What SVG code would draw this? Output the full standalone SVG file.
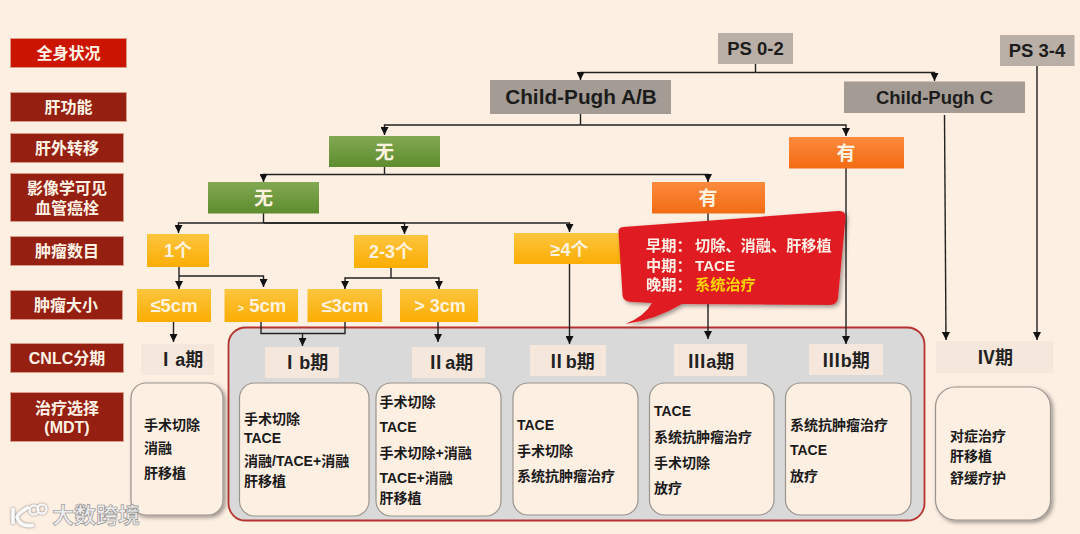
<svg xmlns="http://www.w3.org/2000/svg" width="1080" height="534" viewBox="0 0 1080 534">
<style>
text{font-family:"Liberation Sans","Noto Sans CJK SC",sans-serif}
.lab rect{stroke:#D99C88;stroke-width:1}
.lab text{fill:#FFF3E6;font-size:16px;font-weight:700;text-anchor:middle}
.grey text{fill:#1c1c1c;font-weight:700;text-anchor:middle}
.col text{fill:#FFF3E0;font-weight:700;text-anchor:middle}
.st rect{fill:#F5E7DC}
.st text{fill:#222;font-size:18px;font-weight:700;text-anchor:middle;word-spacing:-4.500px}
.tr rect{fill:#FEEFE3;stroke:#9A948E;stroke-width:1.2}
.tr text{fill:#1a1a1a;font-size:14px;font-weight:700}
.c path{fill:none;stroke:#222;stroke-width:1.4}
.c path.a{marker-end:url(#ar)}
</style>
<defs>
<marker id="ar" markerUnits="userSpaceOnUse" markerWidth="9" markerHeight="8" refX="8" refY="4" orient="auto"><path d="M0,0L8,4L0,8Z" fill="#111"/></marker>
<linearGradient id="gr" x1="0" y1="0" x2="0" y2="1"><stop offset="0" stop-color="#83A953"/><stop offset="1" stop-color="#5D8C2D"/></linearGradient>
<linearGradient id="or" x1="0" y1="0" x2="0" y2="1"><stop offset="0" stop-color="#FD8A3D"/><stop offset="1" stop-color="#F26C12"/></linearGradient>
<linearGradient id="ye" x1="0" y1="0" x2="0" y2="1"><stop offset="0" stop-color="#FDC53F"/><stop offset="1" stop-color="#FBAD03"/></linearGradient>
<filter id="sh" x="-10%" y="-10%" width="125%" height="125%"><feDropShadow dx="2" dy="2" stdDeviation="2" flood-color="#000" flood-opacity=".4"/></filter>
<filter id="ws" x="-20%" y="-20%" width="140%" height="140%"><feDropShadow dx="0" dy="0" stdDeviation=".8" flood-color="#555" flood-opacity=".9"/></filter>
</defs>
<rect width="1080" height="534" fill="#FEEFE3"/>

<g id="panel"><rect x="228.500" y="327.500" width="696" height="193" rx="17" fill="#D9D9D9" stroke="#B5332E" stroke-width="1.800"/></g>

<g class="lab">
<g id="l1"><rect x="10.500" y="38.500" width="116" height="29" fill="#CC1500"/><text x="68.500" y="59">全身状况</text></g>
<g id="l2"><rect x="10.500" y="92.500" width="116" height="29" fill="#951F10"/><text x="68.500" y="113">肝功能</text></g>
<g id="l3"><rect x="10.500" y="133.500" width="113" height="29" fill="#951F10"/><text x="67" y="154">肝外转移</text></g>
<g id="l4"><rect x="10.500" y="173.500" width="113" height="48" fill="#951F10"/><text x="67" y="194">影像学可见</text><text x="67" y="214">血管癌栓</text></g>
<g id="l5"><rect x="10.500" y="236.500" width="113" height="29" fill="#951F10"/><text x="67" y="257">肿瘤数目</text></g>
<g id="l6"><rect x="10.500" y="290.500" width="112" height="29" fill="#951F10"/><text x="66" y="311">肿瘤大小</text></g>
<g id="l7"><rect x="10.500" y="343.500" width="113" height="29" fill="#951F10"/><text x="67" y="364">CNLC分期</text></g>
<g id="l8"><rect x="10.500" y="392.500" width="113" height="49" fill="#951F10"/><text x="67" y="414">治疗选择</text><text x="67" y="433">(MDT)</text></g>
</g>

<g id="connectors" class="c">
<path d="M755.500,64V72.500"/><path class="a" d="M755.500,72.500H580.500V80"/><path class="a" d="M755.500,72.500H934.500V81"/>
<path d="M580.500,114V125"/><path class="a" d="M580.500,125H384.500V135"/><path class="a" d="M580.500,125H846V136"/>
<path d="M384.500,167V174.500"/><path class="a" d="M384.500,174.500H263.500V182"/><path class="a" d="M384.500,174.500H708V182"/>
<path d="M263.500,213V223"/><path class="a" d="M263.500,223H178.500V233"/><path class="a" d="M263.500,223H404.500V234"/><path class="a" d="M263.500,223H569.500V232"/>
<path class="a" d="M846,168V344"/><path class="a" d="M708,213V339"/><path class="a" d="M569.500,264V344"/>
<path class="a" d="M944.500,115L946,340"/><path class="a" d="M1037,66V340"/>
<path class="a" d="M179,267V289"/><path class="a" d="M179,276H263.500V287"/>
<path d="M391,268V278"/><path class="a" d="M391,278H345V289"/><path class="a" d="M391,278H439V289"/>
<path class="a" d="M173.500,322V342"/><path d="M261,322V333.500H345V322"/><path class="a" d="M302.500,333.500V346"/><path class="a" d="M438,322V342"/>
</g>

<g class="grey">
<g id="ps02"><rect x="718" y="33" width="75" height="31" fill="#B9AFA6"/><text x="755.500" y="55" font-size="18.500">PS 0-2</text></g>
<g id="ps34"><rect x="1000" y="35" width="74.500" height="31" fill="#B9AFA6"/><text x="1037" y="57" font-size="18.500">PS 3-4</text></g>
<g id="cpab"><rect x="490" y="80" width="181" height="34" fill="#A39B94"/><text x="581" y="104" font-size="20.800">Child-Pugh A/B</text></g>
<g id="cpc"><rect x="844" y="81.500" width="181" height="31.500" fill="#A39B94"/><text x="934.500" y="104" font-size="18.500">Child-Pugh C</text></g>
</g>

<g class="col">
<g id="m-no"><rect x="329" y="136" width="111" height="31" fill="url(#gr)"/><text x="384.500" y="159" font-size="19">无</text></g>
<g id="m-yes"><rect x="789" y="137" width="115" height="31.500" fill="url(#or)"/><text x="846" y="160" font-size="19">有</text></g>
<g id="v-no"><rect x="208" y="182" width="111" height="31.500" fill="url(#gr)"/><text x="263.500" y="205" font-size="19">无</text></g>
<g id="v-yes"><rect x="652" y="182" width="113" height="31.500" fill="url(#or)"/><text x="708" y="205" font-size="19">有</text></g>
<g id="n1"><rect x="147" y="234" width="62" height="33" fill="url(#ye)"/><text x="178" y="257" font-size="18">1个</text></g>
<g id="n23"><rect x="354" y="235" width="74" height="33" fill="url(#ye)"/><text x="391" y="258" font-size="18">2-3个</text></g>
<g id="n4"><rect x="514" y="233" width="112" height="31" fill="url(#ye)"/><text x="569.500" y="256" font-size="18">≥4个</text></g>
<g id="s1"><rect x="137" y="289" width="74" height="33" fill="url(#ye)"/><text x="174" y="312" font-size="18.500">≤5cm</text></g>
<g id="s2"><rect x="224.500" y="289" width="73.500" height="33" fill="url(#ye)"/><text x="262" y="312" font-size="18.500"><tspan font-size="11">&gt;</tspan> 5cm</text></g>
<g id="s3"><rect x="307.500" y="289" width="74.500" height="33" fill="url(#ye)"/><text x="345" y="312" font-size="18.500">≤3cm</text></g>
<g id="s4"><rect x="400" y="289" width="78" height="33" fill="url(#ye)"/><text x="440" y="312" font-size="18">&gt; 3cm</text></g>
</g>

<g class="st">
<g id="ia"><rect x="141" y="344" width="73" height="31"/><text x="180" y="366">Ⅰ a期</text></g>
<g id="ib"><rect x="265" y="347" width="74" height="31"/><text x="304.500" y="369">Ⅰ b期</text></g>
<g id="iia"><rect x="412" y="347" width="73" height="31"/><text x="450" y="369">Ⅱ a期</text></g>
<g id="iib"><rect x="530" y="345" width="76" height="31"/><text x="571" y="368">Ⅱ b期</text></g>
<g id="iiia"><rect x="674" y="344" width="73" height="32"/><text x="711" y="368">Ⅲ a期</text></g>
<g id="iiib"><rect x="809" y="344" width="74" height="31"/><text x="846" y="367">Ⅲ b期</text></g>
<g id="iv"><rect x="936" y="341" width="117" height="32"/><text x="995" y="364">Ⅳ期</text></g>
</g>

<g class="tr">
<g id="t-ia"><rect x="131" y="383" width="92" height="132" rx="15" filter="url(#sh)"/><text x="144" y="430">手术切除</text><text x="144" y="453">消融</text><text x="144" y="478">肝移植</text></g>
<g id="t-ib"><rect x="239.500" y="383" width="129.500" height="133" rx="15"/><text x="244" y="424">手术切除</text><text x="244" y="443">TACE</text><text x="244" y="466">消融/TACE+消融</text><text x="244" y="486">肝移植</text></g>
<g id="t-iia"><rect x="376" y="383" width="125" height="133" rx="15"/><text x="379.500" y="407">手术切除</text><text x="379.500" y="432">TACE</text><text x="379.500" y="458">手术切除+消融</text><text x="379.500" y="483">TACE+消融</text><text x="379.500" y="503">肝移植</text></g>
<g id="t-iib"><rect x="513" y="383" width="125" height="132" rx="15"/><text x="517" y="430">TACE</text><text x="517" y="456">手术切除</text><text x="517" y="481">系统抗肿瘤治疗</text></g>
<g id="t-iiia"><rect x="649.500" y="383" width="124.500" height="132" rx="15"/><text x="654" y="416">TACE</text><text x="654" y="442">系统抗肿瘤治疗</text><text x="654" y="468">手术切除</text><text x="654" y="493">放疗</text></g>
<g id="t-iiib"><rect x="785.500" y="383" width="125.500" height="132" rx="15"/><text x="790" y="430">系统抗肿瘤治疗</text><text x="790" y="455">TACE</text><text x="790" y="481">放疗</text></g>
<g id="t-iv"><rect x="935.500" y="387" width="115" height="133" rx="20" filter="url(#sh)"/><text x="950" y="441">对症治疗</text><text x="950" y="461">肝移植</text><text x="950" y="483">舒缓疗护</text></g>
</g>

<g id="callout" filter="url(#sh)">
<path d="M618.500,232Q618,228 623,227L838,211Q846,210 845.500,218L838,298Q837,305 830,305L682,304Q655,320 625.500,324Q645,316 652,303L632,302Q623,302 622.500,295Z" fill="#E01F23"/>
<g font-size="15.200" font-weight="700" fill="#FDEFE5">
<text x="646" y="251">早期：<tspan x="695">切除、消融、肝移植</tspan></text>
<text x="646" y="271">中期：<tspan x="695">TACE</tspan></text>
<text x="646" y="290">晚期：<tspan x="695" fill="#FFD500">系统治疗</tspan></text>
</g>
</g>

<g id="watermark">
<g filter="url(#ws)" fill="none" stroke="#FAFAFA">
<path stroke-width="3.500" d="M13,508V524M29,507Q18,513 17,517Q20,528 34,525"/>
<circle stroke-width="2" cx="34" cy="510" r="4.500"/><circle stroke-width="2" cx="42" cy="509" r="4.500"/>
</g>
<text x="52" y="523" font-size="22" font-weight="700" fill="#EDEDED" stroke="#8a8a8a" stroke-width=".6">大数跨境</text>
</g>
</svg>
